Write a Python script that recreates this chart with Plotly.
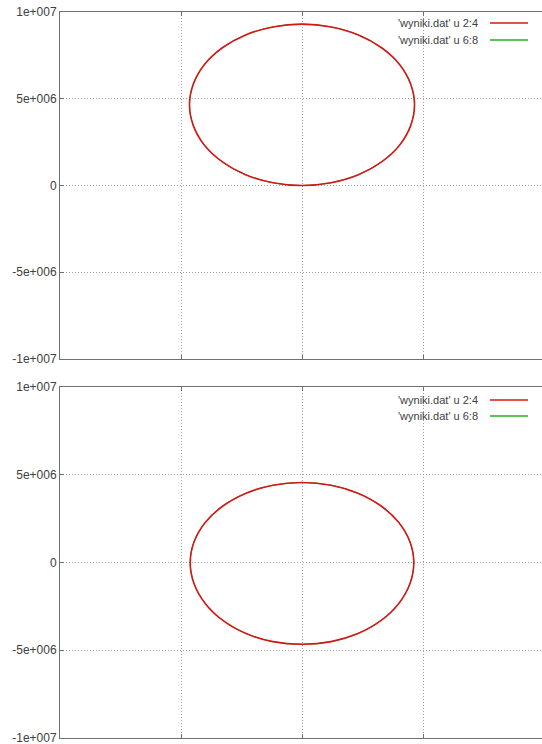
import plotly.graph_objects as go
from plotly.subplots import make_subplots

# Data (values in units of 1e6)
x_top = [4.65, 4.49, 4.03, 3.29, 2.33, 1.20, 0.0, -1.20, -2.33, -3.29, -4.03, -4.49, -4.65,
         -4.49, -4.03, -3.29, -2.33, -1.20, 0.0, 1.20, 2.33, 3.29, 4.03, 4.49, 4.65]
y_top = [4.65, 5.85, 6.98, 7.94, 8.68, 9.14, 9.30, 9.14, 8.68, 7.94, 6.98, 5.85, 4.65,
         3.45, 2.32, 1.36, 0.62, 0.16, 0.0, 0.16, 0.62, 1.36, 2.32, 3.45, 4.65]
x_bot = [4.62, 4.46, 4.00, 3.27, 2.31, 1.20, 0.0, -1.20, -2.31, -3.27, -4.00, -4.46, -4.62,
         -4.46, -4.00, -3.27, -2.31, -1.20, 0.0, 1.20, 2.31, 3.27, 4.00, 4.46, 4.62]
y_bot = [0.0, 1.18, 2.28, 3.22, 3.95, 4.40, 4.56, 4.40, 3.95, 3.22, 2.28, 1.18, 0.0,
         -1.21, -2.33, -3.30, -4.05, -4.51, -4.66, -4.51, -4.05, -3.30, -2.33, -1.21, 0.0]

legend_labels = ["'wyniki.dat' u 2:4", "'wyniki.dat' u 6:8"]
ytick_vals = [-1e7, -5e6, 0, 5e6, 1e7]
ytick_text = ["-1e+007", "-5e+006", "0", "5e+006", "1e+007"]
xtick_vals = [-5e6, 0, 5e6]

RED = "#d41818"
GREEN = "#20b020"
SCALE = 1e6

fig = make_subplots(rows=2, cols=1)

for row, (xs, ys) in enumerate([(x_top, y_top), (x_bot, y_bot)], start=1):
    xv = [v * SCALE for v in xs]
    yv = [v * SCALE for v in ys]
    fig.add_trace(go.Scatter(x=xv, y=yv, mode="lines", line=dict(color=GREEN, width=1, shape="spline"),
                             showlegend=False, hoverinfo="skip"), row=row, col=1)
    fig.add_trace(go.Scatter(x=xv, y=yv, mode="lines", line=dict(color=RED, width=1.6, shape="spline"),
                             showlegend=False, hoverinfo="skip"), row=row, col=1)

W, H = 550, 744   # right edge of the plot lies just outside the 542 px window, as in the reference
ml, mt = 60, 12
plot_bottom = 738
mb = H - plot_bottom
pw = W - ml
ph = H - mt - mb

def py(p):
    return (plot_bottom - p) / ph

def px(p):
    return (p - ml) / pw

top_dom = [py(359), 1.0]
bot_dom = [0.0, py(387)]

axis_common = dict(showline=True, linecolor="#707070", linewidth=1, showgrid=True,
                   gridcolor="#a0a0a0", griddash="1px,2px", gridwidth=1, zeroline=False,
                   ticks="inside", ticklen=4, tickcolor="#707070", automargin=False)

xr = [-1e7, -1e7 + pw / 121.0 * 5e6]
for name in ["xaxis", "xaxis2"]:
    fig.layout[name].update(range=xr, tickvals=xtick_vals, showticklabels=False,
                            mirror="ticks", **axis_common)
fig.layout.xaxis.update(anchor="y")
fig.layout.xaxis2.update(anchor="y2")
for name, dom in [("yaxis", top_dom), ("yaxis2", bot_dom)]:
    fig.layout[name].update(domain=dom, range=[-1e7, 1e7], tickvals=ytick_vals, ticktext=ytick_text,
                            tickfont=dict(family="Liberation Sans, Arial", size=12, color="#404040"),
                            ticklabeloverflow="allow", mirror=False, **axis_common)

annotations = []
shapes = []
legend_rows = [(23, 40), (400, 416)]
colors = [RED, GREEN]
for rows in legend_rows:
    for lbl, ry, col in zip(legend_labels, rows, colors):
        annotations.append(dict(x=px(480), y=py(ry), xref="paper", yref="paper", text=lbl,
                                showarrow=False, xanchor="right", yanchor="middle",
                                font=dict(family="Liberation Sans, Arial", size=11, color="#404040")))
        shapes.append(dict(type="line", xref="paper", yref="paper", x0=px(490), x1=px(528),
                           y0=py(ry), y1=py(ry), line=dict(color=col, width=1.5)))

fig.update_layout(width=W, height=H, margin=dict(l=ml, r=0, t=mt, b=mb, autoexpand=False),
                  plot_bgcolor="white", paper_bgcolor="white", showlegend=False,
                  annotations=annotations, shapes=shapes)

fig.write_html("out.html", config={"displayModeBar": False},
               post_script="document.body.style.margin='0';document.body.style.overflow='hidden';")
